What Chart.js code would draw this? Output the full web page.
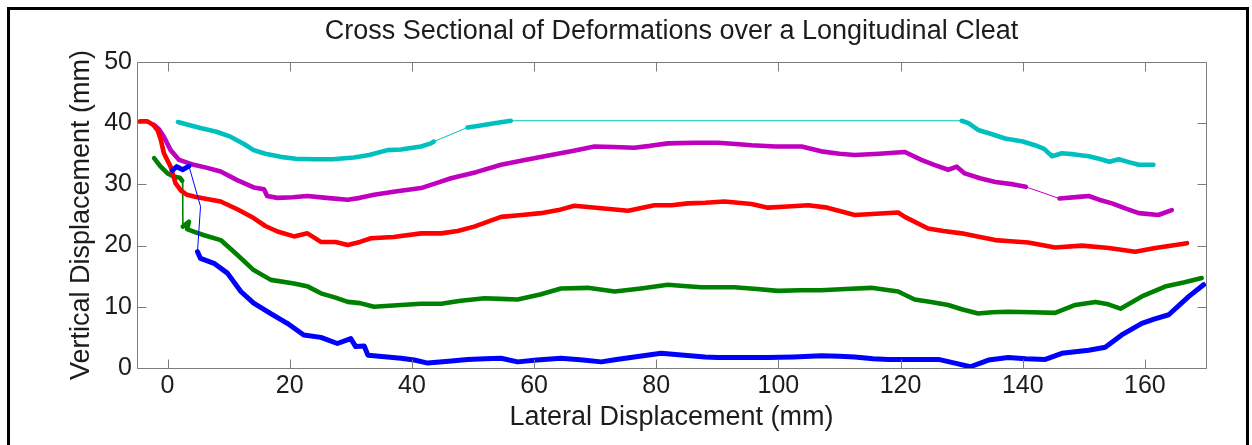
<!DOCTYPE html>
<html><head><meta charset="utf-8">
<script src="https://cdn.jsdelivr.net/npm/chart.js@4.4.1/dist/chart.umd.min.js"></script>
<style>
html,body{margin:0;padding:0;background:#fff;overflow:hidden}
#wrap{position:relative;width:1252px;height:445px;overflow:hidden}
#frame{position:absolute;left:7px;top:7px;width:1236px;height:470px;border:3px solid #000;border-bottom:none;pointer-events:none}
canvas{position:absolute;left:0;top:0}
</style></head><body>
<div id="wrap"><canvas id="c" width="1252" height="445"></canvas><div id="frame"></div></div>
<script>
const titleText = "Cross Sectional of Deformations over a Longitudinal Cleat";
const xTitle = "Lateral Displacement (mm)";
const yTitle = "Vertical Displacement (mm)";
const xMin = -5, xMax = 170, xStep = 20;
const yMin = 0, yMax = 50, yStep = 10;

const cyanPts = [[1.7,40.2],[3.5,39.7],[5.4,39.2],[8,38.6],[10.3,37.8],[12.5,36.6],[14.1,35.6],[16,35.0],[18.5,34.5],[21,34.2],[23.9,34.1],[27,34.1],[30.5,34.4],[33,34.8],[36,35.6],[38.2,35.7],[41.5,36.2],[43.1,36.7],[43.6,37.0],[49.1,39.3],[51,39.6],[53.5,40.0],[56.2,40.4],[130,40.4],[131.1,40.0],[132.7,38.9],[135,38.2],[137.1,37.5],[140,37.0],[142,36.4],[143.5,35.8],[144.8,34.6],[146.4,35.1],[148.5,34.9],[150.8,34.6],[152.5,34.2],[154.2,33.7],[155.7,34.1],[157.5,33.6],[159,33.2],[161.4,33.2]];

const magentaPts = [[-2.2,39.7],[-1.4,39.0],[-0.6,37.8],[0.5,35.6],[1.9,34.0],[4.3,33.2],[6.5,32.7],[8.7,32.1],[11.4,30.7],[14.1,29.5],[15.8,29.2],[16.3,28.1],[18.0,27.8],[20.5,27.9],[22.9,28.1],[26,27.8],[29.5,27.5],[31.5,27.8],[33.8,28.3],[37,28.8],[41.5,29.4],[44,30.2],[46.4,31.0],[50.5,32.0],[54.6,33.2],[58.5,34.0],[62.8,34.8],[66.5,35.5],[69.9,36.2],[73,36.1],[76.4,36.0],[79,36.3],[81.9,36.7],[86.3,36.8],[90.1,36.8],[93,36.6],[95.6,36.4],[99.5,36.2],[103.8,36.2],[107,35.4],[110,35.0],[112.5,34.8],[116.5,35.0],[120.7,35.3],[123.4,34.0],[125.5,33.2],[127.8,32.4],[129.2,32.9],[130.5,31.8],[133,31.0],[135.5,30.4],[138.5,30.0],[140.5,29.6],[146,27.7],[149.7,28.0],[150.8,28.1],[152.5,27.5],[154.6,26.9],[157,26.0],[159,25.3],[162.2,25.0],[164.4,25.8]];

const redPts = [[-4.5,40.3],[-3.3,40.3],[-2.3,39.7],[-1.6,38.8],[-1.1,37.3],[-0.6,35.1],[0.5,32.9],[1.3,30.2],[2.2,29.0],[3.2,28.3],[4.5,28.0],[6.0,27.7],[8.7,27.2],[11.5,25.9],[14.1,24.5],[16.0,23.2],[18.0,22.3],[20.7,21.5],[22.9,22.0],[25.1,20.6],[27.5,20.6],[29.5,20.1],[31.5,20.6],[33.3,21.2],[37,21.4],[41.5,22.0],[44.8,22.0],[47.5,22.4],[50.2,23.1],[54.6,24.7],[58,25.0],[61.1,25.3],[64,25.8],[66.6,26.5],[71.0,26.1],[75.4,25.7],[79.7,26.6],[82.5,26.6],[85.2,26.9],[88,27.0],[91.2,27.2],[95.6,26.8],[98.3,26.2],[101.5,26.4],[104.9,26.6],[108,26.2],[112.5,25.0],[116,25.2],[119.6,25.4],[120.7,24.7],[124.5,22.8],[127,22.4],[130,22.0],[133,21.4],[135.5,20.9],[138,20.7],[140.9,20.5],[145.3,19.7],[149.7,20.0],[154.1,19.6],[158.4,19.0],[161.7,19.6],[165,20.1],[166.9,20.4]];

const greenPts = [[-2.2,34.3],[-1.2,33.0],[0,31.8],[1.0,31.3],[2.0,31.1],[2.4,30.6],[2.5,23.1],[3.5,23.9],[3.2,22.7],[4.5,22.2],[6.0,21.7],[8.7,20.9],[11.4,18.5],[14.1,16.0],[16.9,14.4],[20.7,13.8],[23,13.3],[25.1,12.2],[27.5,11.5],[29.5,10.8],[31.5,10.6],[33.8,10.0],[38.2,10.3],[41.5,10.5],[44.8,10.5],[48,11.0],[51.9,11.4],[54.5,11.3],[57.3,11.2],[61,12.0],[64.4,13.0],[68.8,13.1],[73.2,12.5],[77.5,13.0],[81.9,13.6],[84.5,13.4],[87.4,13.2],[90,13.2],[92.8,13.2],[96.5,12.9],[99.9,12.6],[103.5,12.7],[107,12.7],[111,12.9],[115.2,13.1],[119.6,12.5],[122.3,11.2],[125,10.8],[127.8,10.3],[130,9.6],[132.7,8.9],[135,9.1],[137.6,9.2],[141.5,9.1],[145.3,9.0],[148.6,10.3],[151.9,10.8],[154,10.4],[156,9.7],[159.5,11.7],[163.3,13.3],[166.5,14.0],[169.3,14.7]];

const bluePts = [[0.8,32.3],[1.5,32.9],[2.5,32.4],[3.5,33.0],[5.4,26.4],[4.9,19.0],[5.4,17.9],[7.6,17.1],[9.8,15.5],[12.0,12.5],[14.1,10.6],[16.9,8.9],[19.6,7.3],[22.3,5.4],[25.1,5.0],[27.8,4.0],[30.0,4.8],[30.8,3.5],[32.2,3.6],[32.8,2.1],[36.0,1.8],[38.2,1.6],[40.4,1.3],[42.6,0.8],[46,1.1],[49.1,1.4],[52,1.5],[54.6,1.6],[57.3,1.0],[60.5,1.3],[64.4,1.6],[68,1.3],[71.0,1.0],[73.5,1.4],[76.4,1.8],[80.8,2.4],[84.6,2.1],[88,1.8],[90.1,1.7],[94,1.7],[98.3,1.7],[102.5,1.8],[107,2.0],[110,1.9],[112.5,1.8],[115.5,1.5],[118,1.4],[122,1.4],[126.2,1.4],[128.9,0.8],[131.4,0.2],[134.4,1.3],[137.6,1.7],[140.5,1.5],[143.7,1.4],[146.4,2.4],[150.8,2.9],[153.5,3.4],[156.2,5.4],[159.5,7.3],[161.5,8.0],[163.9,8.7],[167.2,11.7],[169.6,13.6]];

const FONT = "'Liberation Sans', Arial, Helvetica, sans-serif";
const TXT = '#1c1c1c';

function mk(pts, color, w){
  return {
    data: pts.map(p => ({x: p[0], y: p[1]})),
    borderColor: color, backgroundColor: color,
    borderWidth: w, pointRadius: 0, tension: 0, fill: false,
    borderJoinStyle: 'round', borderCapStyle: 'round',
    segment: {
      borderWidth: c => (Math.abs(c.p1.parsed.x - c.p0.parsed.x) > 5 || Math.abs(c.p1.parsed.y - c.p0.parsed.y) > 3.5) ? 1 : undefined
    }
  };
}

const axisBox = {
  id: 'axisBox',
  afterDatasetsDraw(chart){
    const {ctx, chartArea: a, scales: {x, y}} = chart;
    const L = 9;
    const l = Math.round(a.left) + 0.5, r = Math.round(a.right) + 0.5;
    const t = Math.round(a.top) + 0.5, b = Math.round(a.bottom) + 0.5;
    ctx.save();
    ctx.strokeStyle = '#7d7d7d'; ctx.lineWidth = 1;
    ctx.beginPath();
    ctx.rect(l, t, r - l, b - t);
    x.ticks.forEach(tk => { const px = Math.round(x.getPixelForValue(tk.value)) + 0.5;
      ctx.moveTo(px, b); ctx.lineTo(px, b - L); ctx.moveTo(px, t); ctx.lineTo(px, t + L); });
    y.ticks.forEach(tk => { const py = Math.round(y.getPixelForValue(tk.value)) + 0.5;
      ctx.moveTo(l, py); ctx.lineTo(l + L, py); ctx.moveTo(r, py); ctx.lineTo(r - L, py); });
    ctx.stroke();
    ctx.restore();
  }
};

new Chart(document.getElementById('c'), {
  type: 'line',
  data: { datasets: [
    mk(bluePts, '#0000ff', 5),
    mk(redPts, '#ff0000', 4.6),
    mk(greenPts, '#008000', 4.6),
    mk(magentaPts, '#bf00bf', 4.6),
    mk(cyanPts, '#00bfbf', 4.6)
  ]},
  options: {
    responsive: false, animation: false, events: [], devicePixelRatio: 1,
    layout: { padding: { left: 0, right: 46, top: 0, bottom: 0 } },
    plugins: {
      legend: { display: false }, tooltip: { enabled: false },
      title: { display: true, text: titleText, fullSize: false, color: TXT,
        font: { family: FONT, size: 27, weight: 'normal', lineHeight: 1.2 },
        padding: { top: 15.8, bottom: 13.8 } }
    },
    scales: {
      x: { type: 'linear', min: xMin, max: xMax,
        grid: { display: false, drawTicks: false }, border: { display: false },
        ticks: { stepSize: xStep, includeBounds: false, maxRotation: 0, autoSkip: false, padding: 3, color: TXT,
          font: { family: FONT, size: 25 } },
        title: { display: true, text: xTitle, color: TXT, font: { family: FONT, size: 27, lineHeight: 1.2 }, padding: { top: 0, bottom: 10.8 } },
        afterFit: s => { s.height = 77; } },
      y: { type: 'linear', min: yMin, max: yMax,
        grid: { display: false, drawTicks: false }, border: { display: false },
        ticks: { stepSize: yStep, includeBounds: false, padding: 5, color: TXT,
          font: { family: FONT, size: 25 } },
        title: { display: true, text: yTitle, color: TXT, font: { family: FONT, size: 27, lineHeight: 1.2 }, padding: { top: 65.8, bottom: 0 } },
        afterFit: s => { s.width = 137; } }
    }
  },
  plugins: [axisBox]
});
</script>
</body></html>
